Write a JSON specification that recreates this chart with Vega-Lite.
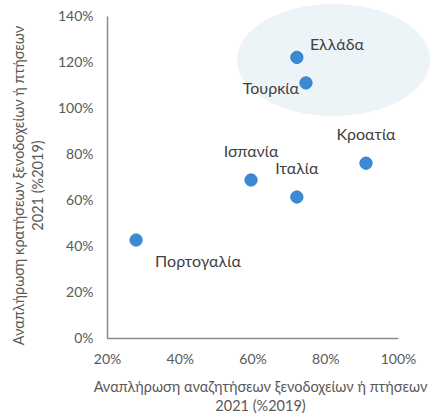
{
  "$schema": "https://vega.github.io/schema/vega-lite/v6.json",
  "width": 291,
  "height": 322,
  "autosize": {"type": "none"},
  "padding": {"left": 107, "top": 16, "right": 33, "bottom": 78},
  "background": "white",
  "config": {
    "view": {"stroke": null},
    "font": "Lato",
    "axis": {
      "grid": false,
      "ticks": false,
      "labelFlush": false,
      "labelOverlap": false,
      "domainColor": "#8a8a8a",
      "domainWidth": 1.5,
      "labelColor": "#595959",
      "labelFontSize": 14,
      "labelFont": "Lato",
      "titleColor": "#595959",
      "titleFont": "Lato",
      "titleFontSize": 14.5,
      "titleFontWeight": "normal",
      "titleLineHeight": 19
    }
  },
  "datasets": {
    "countries": [
      {"country": "Ελλάδα", "search": 0.722, "booking": 1.22},
      {"country": "Τουρκία", "search": 0.747, "booking": 1.109},
      {"country": "Κροατία", "search": 0.912, "booking": 0.76},
      {"country": "Ισπανία", "search": 0.596, "booking": 0.687},
      {"country": "Ιταλία", "search": 0.722, "booking": 0.613},
      {"country": "Πορτογαλία", "search": 0.28, "booking": 0.426}
    ],
    "highlight": [
      {"search": 0.823, "booking": 1.209}
    ]
  },
  "encoding": {
    "x": {
      "field": "search",
      "type": "quantitative",
      "scale": {"domain": [0.2, 1.0], "nice": false, "zero": false},
      "axis": {
        "format": ".0%",
        "values": [0.2, 0.4, 0.6, 0.8, 1.0],
        "labelPadding": 14,
        "titlePadding": 14,
        "title": ["Αναπλήρωση αναζητήσεων ξενοδοχείων ή πτήσεων", "2021 (%2019)"],
        "titleX": 153,
        "titleAlign": "center"
      }
    },
    "y": {
      "field": "booking",
      "type": "quantitative",
      "scale": {"domain": [0, 1.4], "nice": false},
      "axis": {
        "format": ".0%",
        "values": [0, 0.2, 0.4, 0.6, 0.8, 1.0, 1.2, 1.4],
        "labelPadding": 14,
        "titlePadding": 12,
        "title": ["Αναπλήρωση κρατήσεων ξενοδοχείων ή πτήσεων", "2021 (%2019)"],
        "titleY": 169,
        "titleAlign": "center"
      }
    }
  },
  "layer": [
    {
      "data": {"name": "highlight"},
      "mark": {
        "type": "point",
        "filled": true,
        "color": "#edf4f7",
        "opacity": 1,
        "shape": "M -1 0 C -1 -0.3203 -0.5523 -0.58 0 -0.58 C 0.5523 -0.58 1 -0.3203 1 0 C 1 0.3203 0.5523 0.58 0 0.58 C -0.5523 0.58 -1 0.3203 -1 0 Z",
        "size": 37249
      }
    },
    {
      "data": {"name": "countries"},
      "mark": {
        "type": "circle",
        "size": 150,
        "color": "#3a8ad6",
        "opacity": 1,
        "stroke": "#2f7bc8",
        "strokeWidth": 1
      }
    },
    {
      "data": {"name": "countries"},
      "transform": [{"filter": "datum.country === 'Κροατία' || datum.country === 'Ισπανία' || datum.country === 'Ιταλία'"}],
      "mark": {"type": "text", "fontSize": 16, "color": "#404040", "font": "Lato", "align": "center", "baseline": "middle", "dy": -28},
      "encoding": {"text": {"field": "country"}}
    },
    {
      "data": {"name": "countries"},
      "transform": [{"filter": "datum.country === 'Ελλάδα'"}],
      "mark": {"type": "text", "fontSize": 16, "color": "#404040", "font": "Lato", "align": "left", "baseline": "middle", "dx": 13, "dy": -12},
      "encoding": {"text": {"field": "country"}}
    },
    {
      "data": {"name": "countries"},
      "transform": [{"filter": "datum.country === 'Τουρκία'"}],
      "mark": {"type": "text", "fontSize": 16, "color": "#404040", "font": "Lato", "align": "right", "baseline": "middle", "dx": -7, "dy": 6},
      "encoding": {"text": {"field": "country"}}
    },
    {
      "data": {"name": "countries"},
      "transform": [{"filter": "datum.country === 'Πορτογαλία'"}],
      "mark": {"type": "text", "fontSize": 16, "color": "#404040", "font": "Lato", "align": "left", "baseline": "middle", "dx": 19, "dy": 22},
      "encoding": {"text": {"field": "country"}}
    }
  ]
}
